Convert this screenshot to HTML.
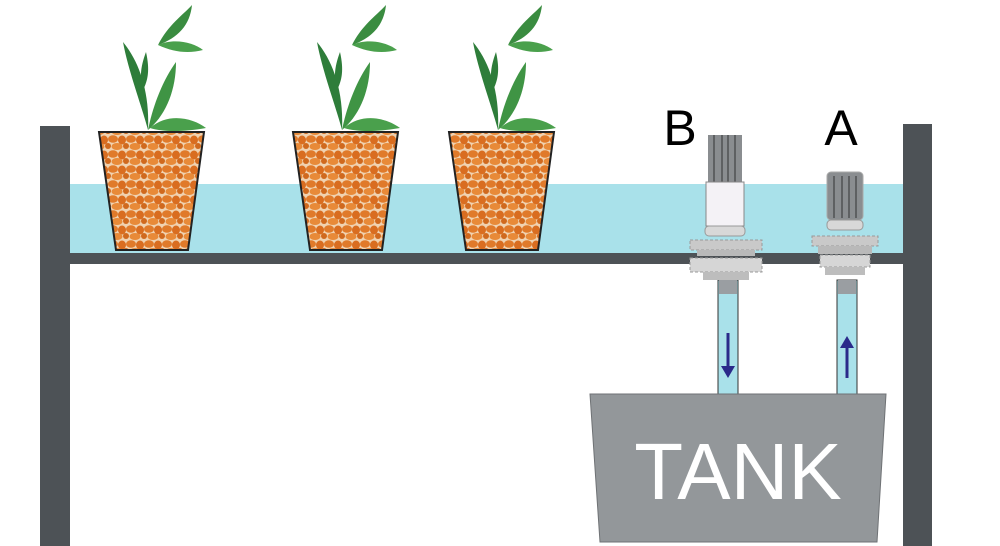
<!DOCTYPE html>
<html><head><meta charset="utf-8"><style>
html,body{margin:0;padding:0;background:#fff;}
svg{display:block;}
</style></head><body>
<svg width="1000" height="546" viewBox="0 0 1000 546" xmlns="http://www.w3.org/2000/svg">
<defs>
<pattern id="peb" width="18" height="15" patternUnits="userSpaceOnUse">
<rect width="18" height="15" fill="#f0d2b0"/>
<ellipse cx="5" cy="4" rx="5" ry="3.8" fill="#e07a2a"/>
<ellipse cx="14" cy="5" rx="4" ry="4.5" fill="#d96d20"/>
<ellipse cx="9" cy="11.5" rx="5.5" ry="3.5" fill="#e88a38"/>
<ellipse cx="0" cy="11" rx="3" ry="3" fill="#d0691e"/>
<ellipse cx="18" cy="11" rx="3" ry="3" fill="#d0691e"/>
</pattern>
<g id="plant">
<path d="M0,0 C-5,-20 -20,-60 -25,-88 C-10,-70 2,-40 0,0Z" fill="#2e7d3a"/>
<path d="M0,0 C5,-25 15,-50 28,-68 C28,-40 18,-15 0,0Z" fill="#3f9444"/>
<path d="M2,-2 C20,-18 45,-12 58,-2 C35,2 15,2 2,-2Z" fill="#4aa04c"/>
<path d="M-5,-40 C-10,-55 -5,-70 -2,-78 C2,-60 0,-50 -5,-40Z" fill="#2e7d3a"/>
<path d="M10,-85 C20,-105 35,-115 44,-125 C42,-105 30,-92 10,-85Z" fill="#3a8c40"/>
<path d="M10,-85 C25,-92 45,-88 55,-80 C40,-76 25,-78 10,-85Z" fill="#4aa04c"/>
</g>
</defs>
<rect x="70" y="184" width="833" height="70" fill="#a9e1ea"/>
<rect x="40" y="253" width="892" height="11" fill="#4d5256"/>
<rect x="40" y="126" width="30" height="420" fill="#4d5256"/>
<rect x="903" y="124" width="29" height="422" fill="#4d5256"/>
<g>
<polygon points="99,132 204,132 188,250 116,250" fill="url(#peb)" stroke="#222" stroke-width="2"/>
<use href="#plant" x="148" y="130"/>
</g>
<g>
<polygon points="293,132 398,132 382,250 310,250" fill="url(#peb)" stroke="#222" stroke-width="2"/>
<use href="#plant" x="342" y="130"/>
</g>
<g>
<polygon points="449,132 554,132 538,250 466,250" fill="url(#peb)" stroke="#222" stroke-width="2"/>
<use href="#plant" x="498" y="130"/>
</g>
<rect x="718" y="280" width="20" height="114" fill="#a9e1ea" stroke="#333" stroke-width="1"/>
<rect x="837" y="280" width="20" height="114" fill="#a9e1ea" stroke="#333" stroke-width="1"/>
<rect x="719" y="280" width="18" height="14" fill="#9a9ea2"/>
<rect x="838" y="280" width="18" height="14" fill="#9a9ea2"/>
<line x1="728" y1="333" x2="728" y2="370" stroke="#2a2a8a" stroke-width="3"/>
<polygon points="721,366 735,366 728,378" fill="#2a2a8a"/>
<line x1="847" y1="345" x2="847" y2="378" stroke="#2a2a8a" stroke-width="3"/>
<polygon points="840,348 854,348 847,336" fill="#2a2a8a"/>
<rect x="708" y="135" width="34" height="48" fill="#8a8d90"/>
<g stroke="#333" stroke-width="1"><line x1="714" y1="135" x2="714" y2="183"/><line x1="722" y1="135" x2="722" y2="183"/><line x1="728" y1="135" x2="728" y2="190"/><line x1="735" y1="135" x2="735" y2="183"/></g>
<rect x="706" y="182" width="38" height="44" fill="#f4f2f6" stroke="#888"/>
<rect x="705" y="226" width="40" height="10" rx="4" fill="#d8d8d8" stroke="#999"/>
<rect x="690" y="240" width="72" height="10" fill="#c9c9c9" stroke="#999" stroke-dasharray="3,2"/>
<rect x="697" y="250" width="58" height="6" fill="#b9b9b9"/>
<rect x="690" y="258" width="72" height="14" fill="#d6d6d6" stroke="#999" stroke-dasharray="3,2"/>
<rect x="703" y="272" width="46" height="8" fill="#bdbdbd"/>
<rect x="827" y="172" width="36" height="48" rx="4" fill="#8a8d90" stroke="#aaa"/>
<g stroke="#333" stroke-width="1"><line x1="834" y1="176" x2="834" y2="218"/><line x1="842" y1="176" x2="842" y2="218"/><line x1="849" y1="176" x2="849" y2="218"/><line x1="856" y1="176" x2="856" y2="218"/></g>
<rect x="827" y="220" width="36" height="10" rx="4" fill="#d8d8d8" stroke="#999"/>
<rect x="812" y="236" width="66" height="10" fill="#c9c9c9" stroke="#999" stroke-dasharray="3,2"/>
<rect x="818" y="246" width="54" height="8" fill="#b9b9b9"/>
<rect x="820" y="255" width="50" height="12" fill="#d6d6d6" stroke="#999" stroke-dasharray="3,2"/>
<rect x="825" y="267" width="40" height="8" fill="#bdbdbd"/>
<text x="680" y="145" font-family="Liberation Sans, sans-serif" font-size="50" text-anchor="middle" fill="#000">B</text>
<text x="841" y="145" font-family="Liberation Sans, sans-serif" font-size="50" text-anchor="middle" fill="#000">A</text>
<polygon points="590,394 886,394 877,542 600,542" fill="#93979a" stroke="#6f7275" stroke-width="1"/>
<text x="738" y="499" font-family="Liberation Sans, sans-serif" font-size="80" text-anchor="middle" fill="#fff">TANK</text>
</svg>
</body></html>
